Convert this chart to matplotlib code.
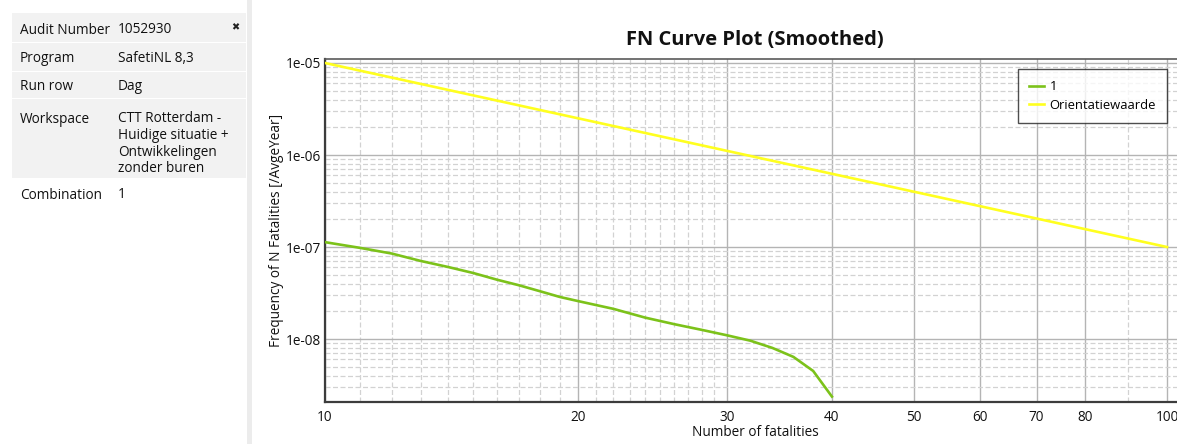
import numpy as np
import matplotlib
matplotlib.use("Agg")
import matplotlib.pyplot as plt
from matplotlib.patches import Rectangle
from matplotlib.ticker import FixedLocator, NullFormatter

plt.rcParams['font.family'] = ['Open Sans', 'DejaVu Sans']

# Data
props = ["Audit Number", "Program", "Run row", "Workspace", "Combination"]
values = ["1052930", "SafetiNL 8,3", "Dag",
          "CTT Rotterdam -\nHuidige situatie +\nOntwikkelingen\nzonder buren", "1"]

n_curve = [10, 11, 12, 13, 14, 15, 16, 17, 18, 19, 20, 22, 24, 26, 28, 30, 32, 34, 36, 38, 40]
f_curve = [1.13e-7, 9.8e-8, 8.5e-8, 7.05e-8, 6.07e-8, 5.22e-8, 4.42e-8, 3.84e-8, 3.31e-8,
           2.87e-8, 2.58e-8, 2.13e-8, 1.71e-8, 1.45e-8, 1.26e-8, 1.1e-8, 9.6e-9, 8.0e-9,
           6.4e-9, 4.5e-9, 2.37e-9]
n_orient = [10, 100]
f_orient = [1e-5, 1e-7]

x_major = [10, 20, 30, 40, 50, 60, 70, 80, 100]
x_minor = [11, 12, 13, 14, 15, 16, 17, 18, 19, 21, 22, 23, 24, 25, 26, 27, 28, 29, 90]

W, H = 1177, 444
fig = plt.figure(figsize=(W / 100, H / 100), dpi=100)


def fx(x):
    return x / W


def fy(y):
    return 1 - y / H


# property panel on the left
row_tops = [13, 43, 72, 99, 180]
row_bots = [42, 71, 98, 178, 205]
row_cols = ['#f2f2f2', '#f2f2f2', '#f2f2f2', '#f2f2f2', 'white']
text_y = [30, 59, 87, 119, 195]
for top, bot, col in zip(row_tops, row_bots, row_cols):
    fig.add_artist(Rectangle((fx(12), fy(bot)), fx(234), (bot - top) / H,
                             transform=fig.transFigure, facecolor=col, edgecolor='none'))
for ty, name, val in zip(text_y, props, values):
    fig.text(fx(20), fy(ty), name, fontsize=9.8, va='center', ha='left', color='#111111')
    fig.text(fx(118), fy(ty - 8), val, fontsize=9.8, va='top', ha='left',
             color='#111111', linespacing=1.16)
fig.text(fx(235), fy(27), "\u2716", fontsize=7, ha='center', va='center', color='#222222',
         family='DejaVu Sans')
fig.add_artist(Rectangle((fx(247), 0), fx(5), 1, transform=fig.transFigure,
                         facecolor='#ececec', edgecolor='none'))

# FN chart
ax = fig.add_axes([fx(325), (H - 402) / H, 842 * np.log10(10.5) / W, 343 / H])
ax.plot(n_curve, f_curve, color='#7cc21a', lw=1.9, label='1', zorder=3)
ax.plot(n_orient, f_orient, color='#ffff1f', lw=1.9, label='Orientatiewaarde', zorder=3)
ax.set_xscale('log')
ax.set_yscale('log')
ax.set_xlim(10, 105)
ax.set_ylim(2.07e-9, 1.105e-5)

ax.xaxis.set_major_locator(FixedLocator(x_major))
ax.xaxis.set_minor_locator(FixedLocator(x_minor))
ax.set_xticklabels([str(v) for v in x_major])
ax.xaxis.set_minor_formatter(NullFormatter())
ax.yaxis.set_major_locator(FixedLocator([1e-8, 1e-7, 1e-6, 1e-5]))
ax.set_yticklabels(['1e-08', '1e-07', '1e-06', '1e-05'])
y_minor = [m * 10.0 ** e for e in range(-9, -5) for m in range(2, 10)]
ax.yaxis.set_minor_locator(FixedLocator(y_minor))
ax.yaxis.set_minor_formatter(NullFormatter())
ax.tick_params(which='both', length=0, labelsize=9.8, colors='#111111')
ax.tick_params(axis='x', pad=6)
ax.tick_params(axis='y', pad=3)

ax.grid(which='major', color='#b4b4b4', lw=1.0, ls='-')
ax.grid(which='minor', color='#d2d2d2', lw=0.9, ls=(0, (4, 2)))

for side in ['left', 'bottom']:
    ax.spines[side].set_color('#3c3c3c')
    ax.spines[side].set_linewidth(1.6)
ax.spines['top'].set_color('#5a5a5a')
ax.spines['top'].set_linewidth(1.2)
ax.spines['right'].set_visible(False)

ax.set_xlabel('Number of fatalities', fontsize=9.8, labelpad=0, color='#111111')
ax.yaxis.set_label_coords(fx(277 - 325) * W / (842 * np.log10(10.5)), 0.5)
ax.set_ylabel('Frequency of N Fatalities [/AvgeYear]', fontsize=9.8, color='#111111',
              va='center')
fig.text(fx(755), fy(40), 'FN Curve Plot (Smoothed)', fontsize=14.5, fontweight='bold',
         ha='center', va='center', color='#111111')

leg = ax.legend(loc='upper right', bbox_to_anchor=(fx(1167), fy(69)),
                bbox_transform=fig.transFigure, fontsize=9.4, frameon=True, fancybox=False,
                handlelength=1.2, handletextpad=0.4, borderpad=0.85, labelspacing=0.42,
                borderaxespad=0)
leg.get_frame().set_edgecolor('#222222')
leg.get_frame().set_linewidth(1.0)

fig.savefig('out.png', dpi=100)
